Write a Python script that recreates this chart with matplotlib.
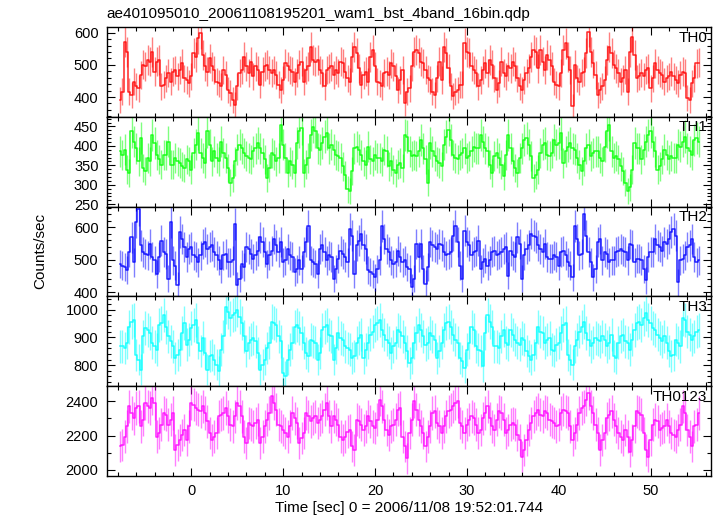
import numpy as np
import matplotlib
matplotlib.use("Agg")
import matplotlib.pyplot as plt
from matplotlib.ticker import MultipleLocator

#--------------------------------------------------------------------
# DATA (counts/sec per 0.25 s bin)
#--------------------------------------------------------------------
T0 = -7.75
DT = 0.25

TH0_RATE = [
    391, 417, 572, 539, 417, 407, 448, 433, 427, 469, 500, 495, 515, 510, 541, 479, 510, 515, 433, 438,
    458, 474, 448, 479, 484, 464, 484, 505, 458, 453, 443, 464, 536, 525, 582, 598, 531, 495, 479, 520,
    495, 484, 448, 443, 433, 484, 469, 422, 412, 391, 376, 433, 474, 484, 525, 495, 474, 510, 464, 495,
    484, 438, 479, 495, 500, 484, 474, 484, 469, 438, 422, 453, 505, 495, 484, 479, 448, 474, 500, 510,
    448, 484, 495, 556, 515, 510, 515, 484, 474, 433, 484, 489, 495, 469, 484, 474, 510, 505, 479, 458,
    448, 525, 556, 536, 489, 438, 469, 479, 448, 525, 546, 495, 448, 443, 433, 474, 479, 469, 505, 495,
    464, 422, 453, 484, 381, 417, 427, 495, 541, 546, 536, 510, 505, 484, 458, 453, 417, 407, 458, 510,
    453, 556, 536, 489, 433, 402, 417, 422, 438, 438, 567, 541, 536, 495, 484, 474, 433, 453, 484, 505,
    474, 515, 500, 458, 422, 443, 510, 474, 464, 495, 489, 510, 495, 458, 433, 422, 453, 474, 489, 525,
    546, 541, 489, 546, 510, 484, 531, 515, 495, 448, 438, 433, 474, 546, 567, 525, 484, 371, 500, 458,
    448, 474, 479, 536, 603, 541, 505, 469, 407, 422, 433, 453, 515, 556, 536, 500, 489, 474, 448, 458,
    484, 417, 541, 587, 531, 458, 464, 474, 464, 484, 489, 427, 458, 505, 484, 474, 469, 448, 458, 464,
    479, 464, 453, 443, 469, 479, 474, 396, 391, 443, 458, 505, 507,
]

TH1_RATE = [
    386, 377, 390, 339, 331, 437, 411, 394, 360, 420, 343, 335, 369, 360, 428, 407, 377, 365, 352, 377,
    377, 411, 352, 352, 369, 360, 356, 348, 343, 365, 360, 339, 381, 403, 432, 381, 369, 356, 437, 403,
    360, 386, 369, 360, 411, 381, 369, 343, 305, 318, 360, 390, 403, 394, 381, 373, 369, 365, 386, 394,
    407, 394, 381, 365, 318, 343, 381, 377, 360, 369, 454, 403, 369, 331, 360, 352, 331, 407, 437, 445,
    331, 352, 369, 428, 449, 437, 394, 390, 407, 424, 432, 394, 403, 390, 377, 373, 369, 348, 326, 288,
    284, 335, 394, 398, 390, 377, 360, 352, 398, 365, 360, 377, 369, 369, 360, 390, 386, 348, 360, 339,
    331, 352, 356, 343, 428, 424, 386, 373, 377, 373, 386, 415, 394, 365, 305, 407, 386, 373, 360, 356,
    348, 403, 424, 441, 415, 377, 369, 365, 377, 381, 394, 369, 373, 386, 398, 394, 394, 428, 411, 394,
    386, 352, 331, 373, 381, 369, 352, 322, 377, 428, 394, 360, 343, 331, 369, 394, 415, 420, 403, 373,
    318, 326, 339, 381, 403, 407, 377, 373, 381, 415, 403, 407, 432, 356, 386, 398, 407, 394, 390, 369,
    352, 335, 360, 394, 403, 373, 381, 386, 386, 369, 360, 398, 437, 454, 386, 369, 373, 365, 348, 335,
    305, 284, 293, 339, 407, 394, 394, 365, 390, 411, 428, 437, 411, 386, 339, 348, 365, 390, 377, 365,
    373, 369, 369, 403, 398, 411, 424, 394, 386, 377, 415, 420, 411,
]

TH2_RATE = [
    487, 482, 477, 467, 523, 569, 492, 615, 656, 544, 523, 518, 513, 549, 508, 498, 456, 508, 559, 523,
    518, 441, 615, 498, 482, 421, 585, 564, 539, 508, 533, 539, 513, 508, 492, 513, 549, 554, 533, 539,
    544, 523, 513, 498, 472, 513, 518, 492, 492, 498, 610, 421, 441, 487, 477, 539, 533, 518, 503, 513,
    528, 569, 554, 523, 487, 513, 528, 564, 544, 523, 554, 492, 498, 533, 513, 508, 462, 472, 498, 472,
    523, 554, 605, 498, 492, 487, 456, 533, 544, 523, 498, 513, 508, 441, 472, 503, 528, 518, 508, 492,
    595, 574, 456, 544, 559, 580, 544, 533, 467, 462, 456, 446, 472, 498, 605, 564, 533, 523, 498, 487,
    492, 528, 508, 492, 498, 477, 472, 415, 441, 549, 508, 549, 472, 426, 477, 554, 544, 539, 533, 549,
    544, 523, 513, 518, 523, 574, 605, 554, 482, 441, 590, 554, 544, 513, 523, 528, 559, 472, 492, 503,
    482, 498, 523, 528, 513, 518, 523, 533, 539, 451, 528, 513, 508, 569, 549, 441, 513, 533, 544, 580,
    574, 569, 544, 533, 523, 549, 508, 503, 503, 513, 508, 482, 523, 528, 513, 492, 482, 446, 605, 564,
    513, 518, 641, 574, 523, 492, 446, 472, 554, 564, 498, 523, 518, 492, 498, 498, 523, 528, 533, 528,
    523, 498, 549, 544, 492, 503, 503, 498, 472, 436, 508, 523, 523, 564, 544, 539, 528, 554, 549, 564,
    585, 595, 574, 431, 498, 503, 513, 539, 544, 564, 508, 492, 498,
]

TH3_RATE = [
    868, 868, 862, 880, 939, 957, 963, 838, 820, 784, 904, 933, 927, 915, 880, 868, 856, 945, 951, 981,
    939, 904, 886, 868, 826, 838, 856, 915, 951, 874, 892, 933, 945, 963, 880, 850, 898, 844, 784, 832,
    838, 820, 802, 778, 856, 904, 1011, 993, 969, 981, 987, 999, 975, 951, 904, 850, 880, 892, 898, 886,
    844, 784, 802, 820, 862, 880, 957, 951, 945, 904, 886, 772, 760, 820, 856, 880, 939, 945, 933, 915,
    880, 844, 832, 892, 886, 880, 820, 844, 927, 939, 945, 910, 904, 820, 862, 915, 898, 892, 868, 862,
    856, 826, 832, 880, 898, 910, 826, 856, 880, 910, 921, 945, 951, 963, 927, 910, 892, 880, 844, 868,
    880, 927, 921, 904, 880, 850, 808, 826, 880, 915, 945, 927, 904, 874, 880, 915, 904, 892, 826, 850,
    880, 927, 951, 957, 939, 910, 892, 880, 826, 814, 790, 856, 880, 939, 927, 868, 856, 850, 796, 915,
    981, 957, 939, 868, 868, 862, 904, 927, 880, 874, 927, 910, 892, 880, 874, 898, 892, 850, 832, 820,
    838, 880, 939, 921, 915, 880, 892, 898, 856, 850, 874, 880, 915, 945, 951, 838, 820, 802, 868, 892,
    921, 939, 957, 915, 892, 868, 880, 898, 892, 886, 904, 892, 868, 880, 910, 832, 826, 880, 904, 910,
    886, 880, 856, 892, 927, 951, 957, 945, 969, 987, 963, 951, 933, 927, 910, 898, 886, 904, 880, 850,
    832, 838, 892, 880, 868, 969, 963, 921, 910, 892, 904, 921, 927,
]

TH0123_RATE = [
    2137, 2146, 2195, 2254, 2371, 2332, 2302, 2361, 2371, 2254, 2293, 2390, 2371, 2361, 2419, 2390, 2195, 2215, 2263, 2332,
    2322, 2263, 2293, 2332, 2117, 2146, 2176, 2205, 2234, 2176, 2254, 2390, 2380, 2361, 2351, 2341, 2371, 2332, 2283, 2215,
    2176, 2195, 2215, 2312, 2322, 2332, 2361, 2312, 2263, 2254, 2312, 2390, 2371, 2312, 2195, 2156, 2273, 2263, 2254, 2273,
    2293, 2156, 2195, 2254, 2293, 2332, 2429, 2390, 2351, 2263, 2254, 2234, 2215, 2195, 2254, 2332, 2302, 2273, 2156, 2185,
    2215, 2332, 2312, 2283, 2302, 2312, 2273, 2293, 2312, 2351, 2390, 2312, 2254, 2312, 2293, 2263, 2195, 2176, 2195, 2224,
    2234, 2137, 2117, 2293, 2283, 2263, 2234, 2254, 2312, 2283, 2254, 2244, 2293, 2410, 2371, 2293, 2234, 2205, 2254, 2263,
    2293, 2351, 2361, 2195, 2137, 2068, 2215, 2293, 2400, 2351, 2293, 2254, 2215, 2137, 2195, 2254, 2332, 2341, 2273, 2254,
    2215, 2254, 2312, 2341, 2351, 2371, 2390, 2400, 2273, 2254, 2215, 2263, 2293, 2312, 2302, 2263, 2215, 2234, 2302, 2332,
    2371, 2302, 2254, 2234, 2293, 2341, 2332, 2293, 2215, 2234, 2263, 2273, 2263, 2205, 2176, 2078, 2117, 2176, 2234, 2273,
    2312, 2332, 2351, 2322, 2312, 2341, 2332, 2293, 2283, 2273, 2254, 2263, 2332, 2351, 2341, 2332, 2254, 2176, 2215, 2263,
    2332, 2361, 2371, 2410, 2449, 2371, 2332, 2263, 2215, 2117, 2176, 2215, 2302, 2322, 2341, 2293, 2254, 2215, 2195, 2176,
    2234, 2195, 2107, 2176, 2254, 2341, 2332, 2322, 2215, 2117, 2078, 2176, 2263, 2293, 2283, 2234, 2244, 2254, 2293, 2254,
    2215, 2205, 2195, 2234, 2263, 2371, 2332, 2234, 2195, 2137, 2254, 2263, 2332,
]

PANELS = [
    ("TH0", TH0_RATE, "#ff0000", (339, 618), 100, 20),
    ("TH1", TH1_RATE, "#00ff00", (244, 475), 50, 10),
    ("TH2", TH2_RATE, "#0000ff", (387, 664), 100, 20),
    ("TH3", TH3_RATE, "#00ffff", (724, 1048), 100, 20),
    ("TH0123", TH0123_RATE, "#ff00ff", (1965, 2488), 200, 100),
]

TITLE = "ae401095010_20061108195201_wam1_bst_4band_16bin.qdp"
XLABEL = "Time [sec] 0 = 2006/11/08 19:52:01.744"
YLABEL = "Counts/sec"

plt.rcParams["font.family"] = ["Liberation Sans", "DejaVu Sans"]

fig, axes = plt.subplots(5, 1, sharex=True, figsize=(7.17, 5.16), dpi=100,
                         gridspec_kw=dict(hspace=0))
fig.subplots_adjust(left=0.149, right=0.992, top=0.948, bottom=0.0775)

for ax, (name, rate, color, ylim, major, minor) in zip(axes, PANELS):
    rate = np.array(rate, dtype=float)
    t = T0 + DT * np.arange(len(rate))
    err = np.sqrt(rate / DT)  # poisson error of the binned rate
    ax.errorbar(t, rate, yerr=err, fmt="none", ecolor=color,
                elinewidth=1.0, alpha=0.5)
    ax.plot(t, rate, drawstyle="steps-mid", color=color, lw=1.1, alpha=0.85)
    ax.set_ylim(*ylim)
    ax.yaxis.set_major_locator(MultipleLocator(major))
    ax.yaxis.set_minor_locator(MultipleLocator(minor))
    ax.xaxis.set_major_locator(MultipleLocator(10))
    ax.xaxis.set_minor_locator(MultipleLocator(2))
    ax.tick_params(which="both", direction="in", top=True, right=True,
                   labelsize=10.5, width=0.8)
    ax.tick_params(which="major", length=6, pad=6)
    ax.tick_params(which="minor", length=3)
    ax.text(0.993, 0.88, name, transform=ax.transAxes, ha="right",
            va="center", fontsize=11)
    for sp in ax.spines.values():
        sp.set_linewidth(1.0)

axes[-1].set_xlim(-9.2, 56.6)
axes[-1].set_xlabel(XLABEL, fontsize=11, labelpad=2)
fig.text(0.149, 1 - 18 / 516, TITLE, ha="left", va="baseline", fontsize=11)
fig.text(0.056, 0.513, YLABEL, rotation=90, ha="center", va="center",
         fontsize=11)

plt.savefig("out.png", dpi=100)
plt.close()
